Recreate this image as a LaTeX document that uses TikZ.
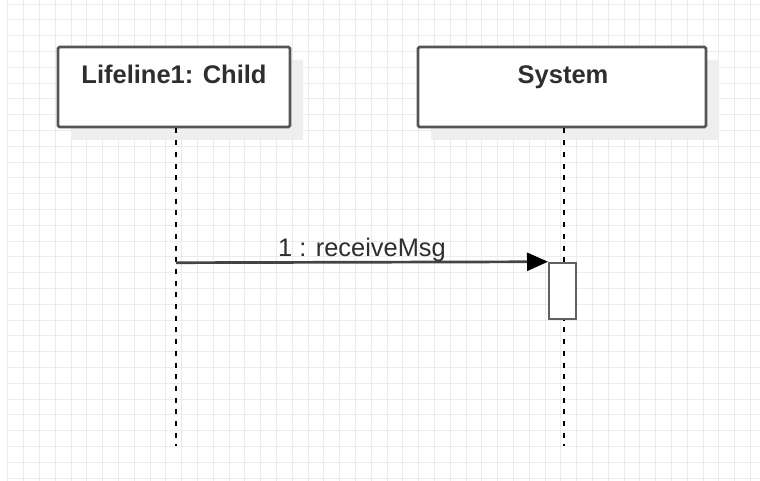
\documentclass[tikz,border=0pt]{standalone}
\usepackage{fontspec}
\newfontfamily\arialf{Liberation Sans}
\usetikzlibrary{arrows.meta,shadows}
\definecolor{gridc}{HTML}{EBEBEB}
\definecolor{boxline}{HTML}{555555}
\definecolor{txtc}{HTML}{2E2E2E}
\definecolor{shadowc}{HTML}{EEEEEE}
\definecolor{msgc}{HTML}{444444}
\begin{document}
\begin{tikzpicture}[x=1pt,y=-1pt,
  lifebox/.style={draw=boxline, line width=2.6pt, fill=white, rounded corners=1.5pt,
    minimum height=80pt, inner sep=0pt,
    drop shadow={shadow xshift=13pt, shadow yshift=-13pt, fill=shadowc, opacity=1}},
  headtext/.style={anchor=base, inner sep=0pt, text=txtc, font=\arialf\bfseries\fontsize{25.5}{30}\selectfont},
  lifeline/.style={draw=black, line width=2pt, dash pattern=on 5pt off 6.7pt},
  msg/.style={draw=msgc, line width=2.7pt, -{Triangle[length=21pt,width=18pt,fill=black,color=black]}},
  msgtext/.style={anchor=base, inner sep=0pt, text=txtc, font=\arialf\fontsize{25.4}{30}\selectfont},
  actbox/.style={draw=gray!75!black, line width=2pt, fill=white, minimum width=27pt, minimum height=56.5pt, inner sep=0pt}
]
\useasboundingbox (0,0) rectangle (760,481);
\fill[white] (0,0) rectangle (760,481);
% grid
\foreach \i in {0,...,47} {
  \draw[gridc, line width=0.9pt] ({7.8+15.8*\i},0) -- ({7.8+15.8*\i},481);
}
\foreach \j in {0,...,30} {
  \draw[gridc, line width=0.9pt] (8,{4+15.8*\j}) -- (760,{4+15.8*\j});
}
% lifeline heads
\node[lifebox, minimum width=232pt] (child) at (174,87) {};
\node[lifebox, minimum width=288pt] (sys) at (562,87) {};
\node[headtext] (childlbl) at (174,84) {Lifeline1: Child};
\node[headtext] (syslbl) at (563,84) {System};
% lifelines
\coordinate (c1top) at (176,128.5);
\coordinate (c1bot) at (176,446);
\coordinate (s1top) at (564,128.5);
\coordinate (s1bot) at (564,446);
\draw[lifeline] (c1top) -- (c1bot);
\draw[lifeline] (s1top) -- (s1bot);
% activation
\node[actbox] (act) at (562.5,291) {};
\coordinate (msgstart) at (176,262.7);
\draw[msg] (msgstart) -- (act.north west);
\node[msgtext] (msglbl) at (362,256) {1 : receiveMsg};
\end{tikzpicture}
\end{document}
